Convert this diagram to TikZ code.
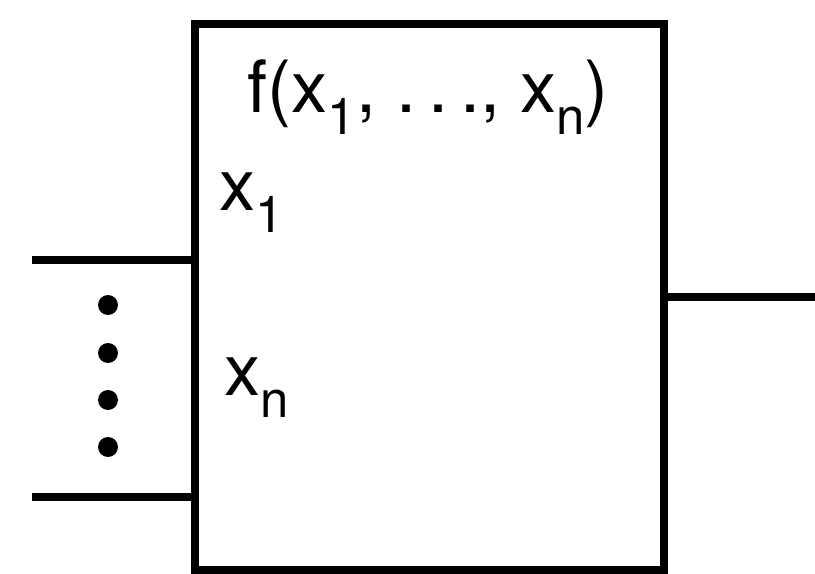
\documentclass[tikz,border=0pt]{standalone}
\usepackage{fontspec}
\setmainfont{TeX Gyre Heros}
\usetikzlibrary{calc}

% lowered subscript
\newcommand{\lo}[1]{\raisebox{-0.3em}{\fontsize{29}{30}\selectfont #1}}

\begin{document}
\begin{tikzpicture}[x=0.02cm, y=-0.02cm, line width=4.4pt,
    lbl/.style={anchor=base west, inner sep=0pt, font=\fontsize{41}{44}\selectfont}]

        % Frame of the picture
        \useasboundingbox (0,0) rectangle (815,574);

        % Block
        \node[draw, minimum width=469*0.02cm, minimum height=546*0.02cm, inner sep=0pt] (blk) at (429.5,297) {};

        % Free ends of the wires
        \coordinate (in1) at (32,260);
        \coordinate (inn) at (32,497);
        \coordinate (out) at (815,297);

        % Wires
        \draw (in1) -- (in1 -| blk.west);
        \draw (inn) -- (inn -| blk.west);
        \draw (blk.east) -- (out);

        % Dots between the inputs
        \foreach \y in {305,353,400,447}
          \fill (108,\y) circle (10);

        % Labels
        \node[lbl] (fun) at (244,113) {f(x\lo{1}, .\,.\,., x\lo{n})};
        \node[lbl] (lx1) at (216,211) {x\lo{1}};
        \node[lbl] (lxn) at (221,396) {x\lo{n}};

      \end{tikzpicture}
\end{document}
